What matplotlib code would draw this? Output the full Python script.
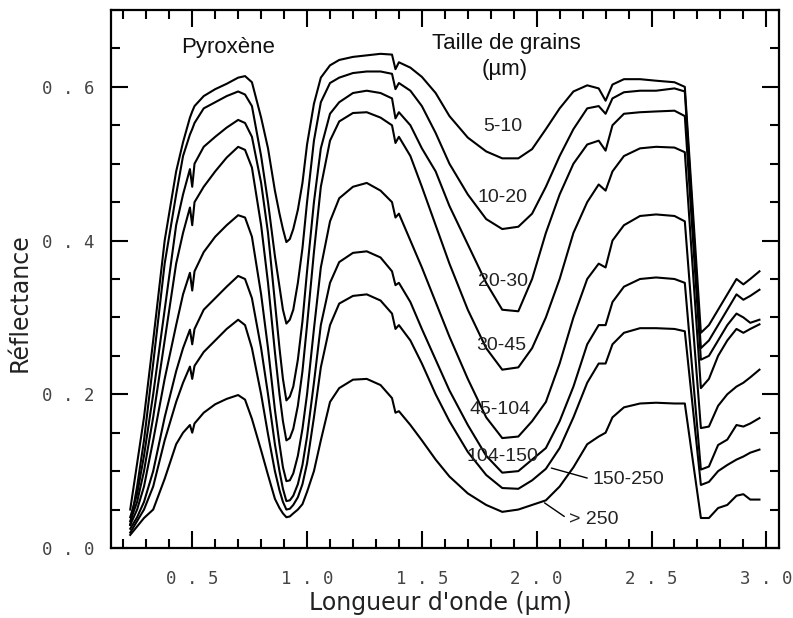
import matplotlib.pyplot as plt
from matplotlib.ticker import MultipleLocator, FuncFormatter

# wavelengths (um) shared by all spectra
wl = [0.23, 0.26, 0.29, 0.33, 0.38, 0.43, 0.46, 0.49, 0.50, 0.51, 0.55, 0.60, 0.65, 0.70, 0.73,
      0.76, 0.80, 0.83, 0.86, 0.88, 0.895, 0.91, 0.925, 0.94, 0.96, 0.98, 1.00, 1.03, 1.06, 1.10, 1.14,
      1.20, 1.26, 1.32, 1.37, 1.385, 1.40, 1.45, 1.50, 1.56, 1.62, 1.70, 1.78, 1.85, 1.92, 1.98,
      2.04, 2.10, 2.16, 2.22, 2.27, 2.30, 2.33, 2.38, 2.45, 2.52, 2.60, 2.645, 2.715, 2.75, 2.79,
      2.83, 2.87, 2.90, 2.93, 2.97]

# reflectance for each grain size (um)
r_5_10 = [0.05, 0.11, 0.17, 0.27, 0.40, 0.49, 0.528, 0.56, 0.568, 0.575, 0.588, 0.597, 0.604, 0.612, 0.614,
          0.606, 0.56, 0.52, 0.465, 0.435, 0.415, 0.398, 0.402, 0.415, 0.44, 0.475, 0.525, 0.578, 0.612, 0.628, 0.635,
          0.639, 0.641, 0.643, 0.642, 0.623, 0.632, 0.625, 0.613, 0.592, 0.562, 0.534, 0.516, 0.507, 0.507, 0.519,
          0.545, 0.572, 0.594, 0.602, 0.598, 0.582, 0.603, 0.610, 0.610, 0.608, 0.606, 0.600, 0.28, 0.29, 0.31,
          0.33, 0.35, 0.343, 0.35, 0.36]
r_10_20 = [0.03, 0.08, 0.14, 0.24, 0.37, 0.46, 0.51, 0.538, 0.545, 0.553, 0.572, 0.58, 0.588, 0.594, 0.59,
           0.575, 0.51, 0.45, 0.38, 0.34, 0.31, 0.292, 0.297, 0.31, 0.345, 0.39, 0.45, 0.53, 0.58, 0.605, 0.612,
           0.618, 0.62, 0.62, 0.617, 0.597, 0.605, 0.595, 0.575, 0.54, 0.50, 0.46, 0.428, 0.415, 0.418, 0.435,
           0.47, 0.51, 0.545, 0.572, 0.575, 0.565, 0.585, 0.593, 0.595, 0.595, 0.598, 0.594, 0.26, 0.27, 0.29,
           0.31, 0.33, 0.323, 0.328, 0.336]
r_20_30 = [0.04, 0.07, 0.12, 0.20, 0.31, 0.42, 0.46, 0.493, 0.47, 0.50, 0.522, 0.535, 0.547, 0.557, 0.553,
           0.535, 0.475, 0.41, 0.32, 0.26, 0.22, 0.192, 0.197, 0.21, 0.245, 0.295, 0.36, 0.45, 0.52, 0.565, 0.58,
           0.592, 0.595, 0.592, 0.585, 0.559, 0.567, 0.55, 0.52, 0.49, 0.445, 0.395, 0.345, 0.31, 0.308, 0.35,
           0.41, 0.46, 0.50, 0.525, 0.53, 0.517, 0.55, 0.565, 0.567, 0.568, 0.569, 0.562, 0.245, 0.25, 0.27,
           0.29, 0.305, 0.30, 0.293, 0.297]
r_30_45 = [0.035, 0.06, 0.10, 0.17, 0.27, 0.37, 0.41, 0.443, 0.42, 0.45, 0.47, 0.49, 0.508, 0.522, 0.518,
           0.495, 0.42, 0.345, 0.255, 0.20, 0.165, 0.14, 0.143, 0.155, 0.185, 0.23, 0.29, 0.385, 0.47, 0.53, 0.555,
           0.566, 0.567, 0.56, 0.55, 0.527, 0.535, 0.51, 0.47, 0.42, 0.37, 0.31, 0.26, 0.232, 0.235, 0.26,
           0.30, 0.35, 0.41, 0.45, 0.473, 0.465, 0.49, 0.51, 0.52, 0.522, 0.521, 0.515, 0.208, 0.22, 0.25,
           0.27, 0.285, 0.28, 0.285, 0.291]
r_45_104 = [0.03, 0.05, 0.08, 0.14, 0.22, 0.29, 0.33, 0.358, 0.335, 0.36, 0.385, 0.405, 0.42, 0.433, 0.43,
            0.405, 0.33, 0.26, 0.18, 0.135, 0.105, 0.087, 0.088, 0.097, 0.12, 0.155, 0.20, 0.285, 0.365, 0.425, 0.455,
            0.47, 0.475, 0.465, 0.45, 0.43, 0.435, 0.40, 0.365, 0.32, 0.275, 0.22, 0.17, 0.143, 0.145, 0.165,
            0.19, 0.24, 0.30, 0.35, 0.37, 0.365, 0.40, 0.42, 0.432, 0.434, 0.432, 0.425, 0.156, 0.158, 0.185,
            0.20, 0.21, 0.215, 0.222, 0.232]
r_104_150 = [0.025, 0.04, 0.06, 0.10, 0.17, 0.23, 0.26, 0.284, 0.265, 0.285, 0.31, 0.325, 0.34, 0.354, 0.35,
             0.325, 0.26, 0.20, 0.135, 0.10, 0.077, 0.061, 0.062, 0.068, 0.083, 0.108, 0.145, 0.215, 0.29, 0.345, 0.372,
             0.384, 0.386, 0.378, 0.36, 0.342, 0.345, 0.32, 0.285, 0.245, 0.205, 0.16, 0.12, 0.098, 0.10, 0.115,
             0.13, 0.165, 0.21, 0.265, 0.29, 0.29, 0.32, 0.34, 0.35, 0.352, 0.35, 0.345, 0.102, 0.106, 0.134,
             0.141, 0.16, 0.158, 0.162, 0.169]
r_150_250 = [0.02, 0.035, 0.05, 0.08, 0.14, 0.19, 0.215, 0.236, 0.22, 0.237, 0.255, 0.27, 0.285, 0.297, 0.29,
             0.26, 0.20, 0.148, 0.10, 0.075, 0.06, 0.05, 0.051, 0.056, 0.066, 0.083, 0.11, 0.17, 0.235, 0.29, 0.318,
             0.328, 0.33, 0.322, 0.305, 0.285, 0.29, 0.27, 0.24, 0.20, 0.165, 0.125, 0.095, 0.078, 0.077, 0.088,
             0.103, 0.13, 0.17, 0.215, 0.24, 0.24, 0.265, 0.28, 0.286, 0.286, 0.285, 0.282, 0.082, 0.086, 0.10,
             0.108, 0.115, 0.119, 0.124, 0.128]
r_250 = [0.017, 0.028, 0.039, 0.05, 0.09, 0.135, 0.15, 0.16, 0.15, 0.162, 0.176, 0.187, 0.194, 0.199, 0.193,
         0.168, 0.127, 0.095, 0.064, 0.052, 0.045, 0.040, 0.041, 0.045, 0.05, 0.057, 0.073, 0.10, 0.14, 0.19, 0.208,
         0.219, 0.22, 0.212, 0.195, 0.176, 0.178, 0.16, 0.14, 0.115, 0.093, 0.071, 0.056, 0.047, 0.05, 0.056,
         0.062, 0.08, 0.105, 0.135, 0.145, 0.15, 0.17, 0.183, 0.188, 0.189, 0.188, 0.188, 0.039, 0.039, 0.052,
         0.056, 0.068, 0.07, 0.063, 0.063]

spectra = [r_5_10, r_10_20, r_20_30, r_30_45, r_45_104, r_104_150, r_150_250, r_250]

fig = plt.figure(figsize=(7.93, 6.18), dpi=100)
ax = fig.add_axes([0.1396, 0.1133, 0.8427, 0.8705])

for r in spectra:
    ax.plot(wl, r, color='black', lw=1.5)

ax.set_xlim(0.145, 3.055)
ax.set_ylim(0.0, 0.70)

ax.xaxis.set_major_locator(MultipleLocator(0.5))
ax.xaxis.set_minor_locator(MultipleLocator(0.1))
ax.yaxis.set_major_locator(MultipleLocator(0.2))
ax.yaxis.set_minor_locator(MultipleLocator(0.05))
spaced = FuncFormatter(lambda v, pos: f"{v:.1f}".replace(".", " . "))
ax.xaxis.set_major_formatter(spaced)
ax.yaxis.set_major_formatter(spaced)
ax.tick_params(which='both', direction='in', top=True, right=True, width=1.5, color='black')
ax.tick_params(which='major', length=12)
ax.tick_params(which='minor', length=6.5)
ax.tick_params(axis='x', pad=16)
ax.tick_params(axis='y', pad=12)
for lab in ax.get_xticklabels() + ax.get_yticklabels():
    lab.set_fontfamily('DejaVu Sans Mono')
    lab.set_fontsize(12.5)
    lab.set_color('#444444')
for sp in ax.spines.values():
    sp.set_linewidth(1.6)

ax.set_xlabel("Longueur d'onde (µm)", fontsize=17, family='DejaVu Sans', color='#222222')
ax.set_ylabel("Réflectance", fontsize=17, family='DejaVu Sans', color='#222222')
ax.xaxis.set_label_coords(0.493, -0.08)
ax.yaxis.set_label_coords(-0.118, 0.457)

head_font = dict(family='Liberation Sans', fontsize=16, color='#111111')
lab_font = dict(family='Liberation Sans', fontsize=14, color='#222222')
ax.text(0.657, 0.651, "Pyroxène", ha='center', va='center', **head_font)
ax.text(1.868, 0.657, "Taille de grains", ha='center', va='center', **head_font)
ax.text(1.862, 0.623, "(µm)", ha='center', va='center', **head_font)

sizes = ["5-10", "10-20", "20-30", "30-45", "45-104", "104-150"]
size_pos = [(1.851, 0.548), (1.851, 0.456), (1.853, 0.347), (1.846, 0.263), (1.842, 0.180), (1.852, 0.119)]
for s, (x, y) in zip(sizes, size_pos):
    ax.text(x, y, s, ha='center', va='center', **lab_font)

ax.annotate("150-250", xy=(2.064, 0.104), xytext=(2.40, 0.089), ha='center', va='center',
            arrowprops=dict(arrowstyle='-', color='black', lw=1.0, relpos=(0, 0.5),
                            shrinkA=2, shrinkB=0), **lab_font)
ax.annotate("> 250", xy=(2.034, 0.0587), xytext=(2.25, 0.0365), ha='center', va='center',
            arrowprops=dict(arrowstyle='-', color='black', lw=1.0, relpos=(0, 0.5),
                            shrinkA=2, shrinkB=0), **lab_font)

fig.savefig('out.png', dpi=100)
